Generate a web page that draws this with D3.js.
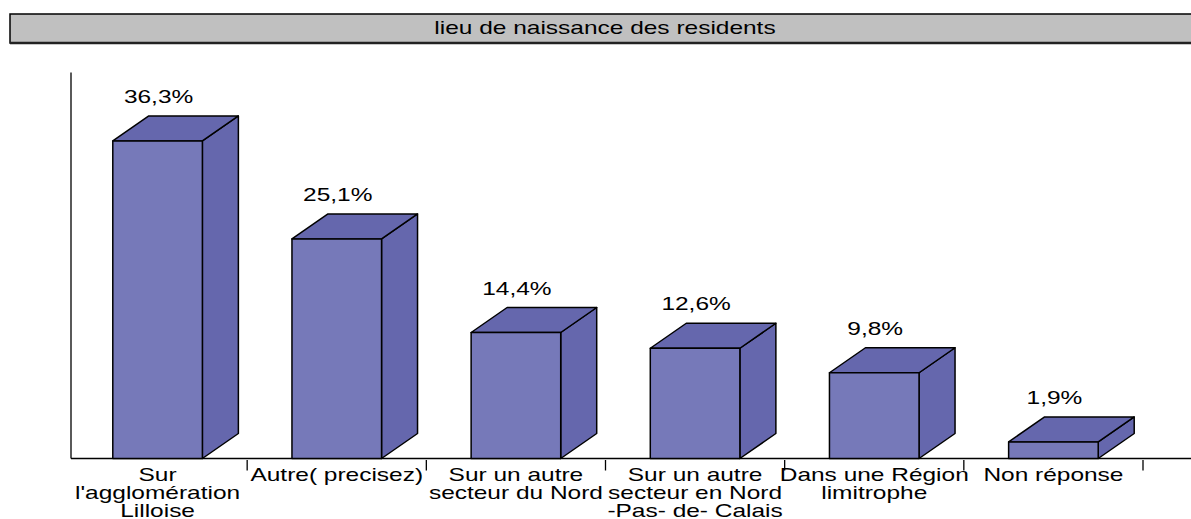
<!DOCTYPE html>
<html>
<head>
    <meta charset="utf-8">
    <script src="https://d3js.org/d3.v7.min.js"></script>
    <style>
        body { margin: 0; background: #fff; }
        svg { display: block; font-family: "Liberation Sans", Arial, sans-serif; }
        .bar path, .bar rect { stroke: #000; stroke-width: 1.5px; stroke-linejoin: round; }
        .axis line { stroke: #000; stroke-width: 1.3px; }
        text { font-size: 18px; fill: #000; }
    </style>
</head>
<body>
    <svg width="1191" height="519"></svg>
    <script>
        var title = "lieu de naissance des residents";
        var categories = [
            "Sur l'agglomération Lilloise",
            "Autre( precisez)",
            "Sur un autre secteur du Nord",
            "Sur un autre secteur en Nord -Pas- de- Calais",
            "Dans une Région limitrophe",
            "Non réponse"
        ];
        var categoryLines = [
            ["Sur", "l'agglomération", "Lilloise"],
            ["Autre( precisez)"],
            ["Sur un autre", "secteur du Nord"],
            ["Sur un autre", "secteur en Nord", "-Pas- de- Calais"],
            ["Dans une Région", "limitrophe"],
            ["Non réponse"]
        ];
        var values = [36.3, 25.1, 14.4, 12.6, 9.8, 1.9];
        var valueLabels = ["36,3%", "25,1%", "14,4%", "12,6%", "9,8%", "1,9%"];

        var svg = d3.select("svg"),
            width = +svg.attr("width"),
            height = +svg.attr("height");

        // the original picture is stretched sideways, so text is too
        var stretch = 1.36;
        var depthX = 36, depthY = 25;

        var x = d3.scaleBand().domain(categories).range([68, 1143]).paddingInner(0);
        var y = d3.scaleLinear().domain([0, 44]).range([458.5, 73.5]);
        var barW = x.bandwidth() * 0.5;

        // title banner
        svg.append("rect")
            .attr("x", 10).attr("y", 14)
            .attr("width", width + 20).attr("height", 29)
            .attr("fill", "#c0c0c0")
            .attr("stroke", "#000").attr("stroke-width", 1.5);
        svg.append("line")
            .attr("x1", 10).attr("x2", width)
            .attr("y1", 43).attr("y2", 43)
            .attr("stroke", "#222").attr("stroke-width", 2.5);
        svg.append("text")
            .attr("transform", "translate(605,34) scale(" + stretch + ",1)")
            .attr("text-anchor", "middle")
            .text(title);

        // axes
        var axis = svg.append("g").attr("class", "axis");
        axis.append("line")
            .attr("x1", 71).attr("x2", 71)
            .attr("y1", y.range()[1] - 1).attr("y2", y(0));
        axis.append("line")
            .attr("x1", 71).attr("x2", width)
            .attr("y1", y(0)).attr("y2", y(0));
        axis.selectAll(".tick")
            .data(categories)
            .enter().append("line")
            .attr("x1", function(d) { return x(d) + x.bandwidth(); })
            .attr("x2", function(d) { return x(d) + x.bandwidth(); })
            .attr("y1", y(0) + 1.5)
            .attr("y2", y(0) + 12);

        // 3d bars
        var bars = svg.selectAll(".bar")
            .data(values)
            .enter().append("g")
            .attr("class", "bar");

        function left(i) { return x(categories[i]) + (x.bandwidth() - barW) / 2; }

        bars.append("path")
            .attr("fill", "#6567ad")
            .attr("d", function(d, i) {
                var x0 = left(i) + barW, y0 = y(0), y1 = y(d);
                return "M" + x0 + "," + y0 + "L" + (x0 + depthX) + "," + (y0 - depthY)
                    + "L" + (x0 + depthX) + "," + (y1 - depthY) + "L" + x0 + "," + y1 + "Z";
            });

        bars.append("path")
            .attr("fill", "#6567ad")
            .attr("d", function(d, i) {
                var x0 = left(i), y1 = y(d);
                return "M" + x0 + "," + y1 + "L" + (x0 + depthX) + "," + (y1 - depthY)
                    + "L" + (x0 + barW + depthX) + "," + (y1 - depthY) + "L" + (x0 + barW) + "," + y1 + "Z";
            });

        bars.append("rect")
            .attr("fill", "#7679b9")
            .attr("x", function(d, i) { return left(i); })
            .attr("y", function(d) { return y(d); })
            .attr("width", barW)
            .attr("height", function(d) { return y(0) - y(d); });

        bars.append("text")
            .attr("text-anchor", "middle")
            .attr("transform", function(d, i) {
                return "translate(" + (left(i) + barW / 2 + 1) + "," + (y(d) - depthY - 13) + ") scale(" + stretch + ",1)";
            })
            .text(function(d, i) { return valueLabels[i]; });

        // category labels
        var labels = svg.selectAll(".cat")
            .data(categories)
            .enter().append("g")
            .attr("class", "cat")
            .attr("transform", function(d) { return "translate(" + (x(d) + x.bandwidth() / 2) + ",480.5)"; });

        labels.selectAll("text")
            .data(function(d, i) { return categoryLines[i]; })
            .enter().append("text")
            .attr("text-anchor", "middle")
            .attr("transform", function(d, j) { return "translate(0," + (j * 18.3) + ") scale(" + stretch + ",1)"; })
            .text(function(d) { return d; });
    </script>
</body>
</html>
